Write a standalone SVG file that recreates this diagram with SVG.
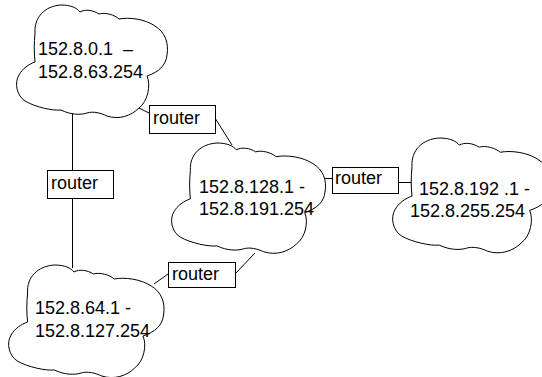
<svg xmlns="http://www.w3.org/2000/svg" xmlns:xlink="http://www.w3.org/1999/xlink" width="542" height="377" viewBox="0 0 542 377">
  <style>
    .cloud { fill: #fff; stroke: #000; stroke-width: 1; }
    .box { fill: #fff; stroke: #000; stroke-width: 1; }
    .link { fill: none; stroke: #000; stroke-width: 1; }
    text { font-family: "Liberation Sans", Arial, sans-serif; font-size: 18px; fill: #000; white-space: pre; }
  </style>
  <defs>
    <!-- Network cloud outline, local box about 152 x 113 -->
    <path id="cloudShape" vector-effect="non-scaling-stroke" d="M20,57 C19,48 19,38 20,28 C19,12 30,1 46,0 C56,0 62,3 65,7 C70,4 78,5 84,9 C90,7 100,10 104,14 C114,12 130,14 140,21 C150,27 154,38 152,50 C151,60 144,67 132,71 C136,80 133,96 124,103 C116,111 104,115 92,111 C86,108 78,106 72,108 C66,110 56,110 46,105 C38,106 20,102 10,96 C2,91 -1,78 4,70 C7,64 14,59 20,57 Z"/>
  </defs>

  <!-- Connectors -->
  <g id="connectors">
    <line class="link" x1="137" y1="107" x2="149" y2="113"/>
    <line class="link" x1="215" y1="118" x2="232" y2="145"/>
    <line class="link" x1="72.5" y1="112" x2="72.5" y2="170"/>
    <line class="link" x1="72.5" y1="198" x2="72.5" y2="268"/>
    <line class="link" x1="322" y1="178.5" x2="332" y2="178.5"/>
    <line class="link" x1="398" y1="182.5" x2="413" y2="182.5"/>
    <line class="link" x1="154" y1="284" x2="168" y2="274"/>
    <line class="link" x1="235" y1="274" x2="255" y2="253"/>
  </g>

  <!-- Subnet clouds -->
  <g id="net-0">
    <use xlink:href="#cloudShape" href="#cloudShape" class="cloud" transform="translate(15,5)"/>
    <text x="38" y="55">152.8.0.1  –</text>
    <text x="38" y="78">152.8.63.254</text>
  </g>
  <g id="net-128">
    <use xlink:href="#cloudShape" href="#cloudShape" class="cloud" transform="translate(170,143) scale(1.02,0.98)"/>
    <text x="199" y="193">152.8.128.1 -</text>
    <text x="199" y="215">152.8.191.254</text>
  </g>
  <g id="net-192">
    <use xlink:href="#cloudShape" href="#cloudShape" class="cloud" transform="translate(391,138) scale(1.05,1.02)"/>
    <text x="419" y="195">152.8.192 .1 -</text>
    <text x="410" y="217">152.8.255.254</text>
  </g>
  <g id="net-64">
    <use xlink:href="#cloudShape" href="#cloudShape" class="cloud" transform="translate(7,265) scale(1.03,1)"/>
    <text x="35" y="314">152.8.64.1 -</text>
    <text x="35" y="337">152.8.127.254</text>
  </g>

  <!-- Routers -->
  <g id="router-top">
    <rect class="box" x="149.5" y="105.5" width="66" height="28"/>
    <text x="153" y="124">router</text>
  </g>
  <g id="router-left">
    <rect class="box" x="47.5" y="170.5" width="66" height="28"/>
    <text x="51" y="189">router</text>
  </g>
  <g id="router-right">
    <rect class="box" x="332.5" y="167.5" width="66" height="26"/>
    <text x="335" y="184">router</text>
  </g>
  <g id="router-bottom">
    <rect class="box" x="168.5" y="262.5" width="67" height="25"/>
    <text x="172" y="280">router</text>
  </g>
</svg>
